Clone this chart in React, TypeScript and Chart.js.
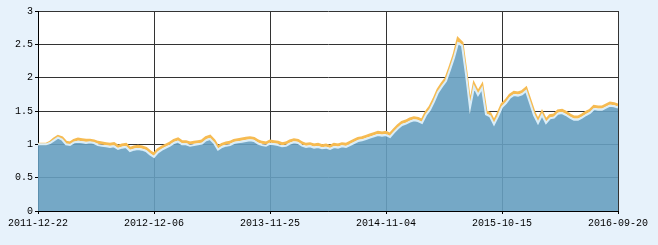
import React, { useEffect, useRef } from "react";
import { Chart, registerables } from "chart.js";

Chart.register(...registerables);

const xTickLabels = ["2011-12-22", "2012-12-06", "2013-11-25", "2014-11-04", "2015-10-15", "2016-09-20"];
const xTickStep = 29;

const navValues = [
  1.00, 1.00, 1.00, 1.02, 1.06, 1.10, 1.07, 1.00, 0.99, 1.03,
  1.04, 1.03, 1.02, 1.03, 1.02, 0.99, 0.98, 0.97, 0.96, 0.97,
  0.93, 0.95, 0.96, 0.90, 0.92, 0.93, 0.92, 0.90, 0.85, 0.81,
  0.88, 0.92, 0.95, 0.98, 1.02, 1.04, 1.00, 1.00, 0.98, 0.99,
  1.00, 1.01, 1.06, 1.08, 1.02, 0.92, 0.96, 0.98, 0.99, 1.02,
  1.03, 1.04, 1.05, 1.06, 1.05, 1.01, 0.99, 0.98, 1.01, 1.00,
  0.99, 0.97, 0.98, 1.01, 1.03, 1.02, 0.98, 0.96, 0.97, 0.95,
  0.96, 0.94, 0.95, 0.93, 0.96, 0.95, 0.97, 0.96, 0.99, 1.02,
  1.05, 1.06, 1.08, 1.10, 1.12, 1.14, 1.13, 1.14, 1.11, 1.18,
  1.24, 1.29, 1.31, 1.34, 1.36, 1.35, 1.32, 1.44, 1.52, 1.64,
  1.78, 1.87, 1.95, 2.12, 2.30, 2.52, 2.48, 2.05, 1.55, 1.86,
  1.74, 1.84, 1.45, 1.42, 1.30, 1.42, 1.56, 1.62, 1.70, 1.74,
  1.73, 1.75, 1.80, 1.62, 1.44, 1.32, 1.44, 1.32, 1.39, 1.40,
  1.46, 1.47, 1.44, 1.40, 1.37, 1.37, 1.40, 1.44, 1.47, 1.53,
  1.52, 1.52, 1.55, 1.58, 1.57, 1.55,
];

const accValues = [
  1.00, 1.00, 1.00, 1.03, 1.08, 1.12, 1.10, 1.03, 1.02, 1.06,
  1.08, 1.07, 1.06, 1.06, 1.05, 1.03, 1.02, 1.01, 1.00, 1.01,
  0.97, 0.99, 1.00, 0.94, 0.96, 0.97, 0.96, 0.94, 0.89, 0.85,
  0.92, 0.96, 0.99, 1.02, 1.06, 1.08, 1.04, 1.04, 1.02, 1.03,
  1.04, 1.05, 1.10, 1.12, 1.06, 0.96, 1.00, 1.02, 1.03, 1.06,
  1.07, 1.08, 1.09, 1.10, 1.09, 1.05, 1.03, 1.02, 1.05, 1.04,
  1.03, 1.01, 1.02, 1.05, 1.07, 1.06, 1.02, 1.00, 1.01, 0.99,
  1.00, 0.98, 0.99, 0.97, 1.00, 0.99, 1.01, 1.00, 1.03, 1.06,
  1.09, 1.10, 1.12, 1.14, 1.16, 1.18, 1.17, 1.18, 1.15, 1.22,
  1.28, 1.33, 1.35, 1.38, 1.40, 1.39, 1.36, 1.48, 1.56, 1.68,
  1.82, 1.91, 1.99, 2.16, 2.34, 2.58, 2.52, 2.08, 1.58, 1.90,
  1.78, 1.88, 1.49, 1.46, 1.34, 1.46, 1.60, 1.66, 1.74, 1.78,
  1.77, 1.79, 1.84, 1.66, 1.48, 1.36, 1.48, 1.36, 1.43, 1.44,
  1.50, 1.51, 1.48, 1.44, 1.41, 1.41, 1.44, 1.48, 1.51, 1.57,
  1.56, 1.56, 1.59, 1.62, 1.61, 1.59,
];

const bgPlugin = {
  id: "bgPlugin",
  beforeDraw(chart: any) {
    const { ctx, chartArea } = chart;
    ctx.save();
    ctx.fillStyle = "#e7f2fb";
    ctx.fillRect(0, 0, chart.width, chart.height);
    ctx.fillStyle = "#ffffff";
    ctx.fillRect(chartArea.left, chartArea.top, chartArea.right - chartArea.left, chartArea.bottom - chartArea.top);
    ctx.restore();
  },
};

export default function App() {
  const ref = useRef<HTMLCanvasElement>(null);

  useEffect(() => {
    if (!ref.current) return;
    const tickFont = { family: "'Liberation Mono', 'DejaVu Sans Mono', monospace", size: 10 };
    const chart = new Chart(ref.current, {
      type: "line",
      data: {
        datasets: [
          {
            label: "nav",
            data: navValues.map((v, i) => ({ x: i, y: v })),
            borderColor: "#d9edf9",
            borderWidth: 2,
            backgroundColor: "rgba(102,159,192,0.9)",
            fill: "origin",
            pointRadius: 0,
            tension: 0,
          },
          {
            label: "acc",
            data: accValues.map((v, i) => ({ x: i, y: v })),
            borderColor: "#f6bb52",
            borderWidth: 3,
            backgroundColor: "transparent",
            fill: false,
            pointRadius: 0,
            tension: 0,
          },
        ],
      },
      options: {
        animation: false,
        responsive: false,
        devicePixelRatio: 1,
        layout: { padding: { left: 0, top: 11, right: 40, bottom: 0 } },
        plugins: { legend: { display: false }, tooltip: { enabled: false } },
        scales: {
          x: {
            type: "linear",
            min: 0,
            max: navValues.length - 1,
            afterFit: (s: any) => {
              s.height = 34;
            },
            ticks: {
              stepSize: xTickStep,
              autoSkip: false,
              maxRotation: 0,
              padding: 3,
              color: "#000",
              font: tickFont,
              callback: (v: any) => {
                const k = Math.round(Number(v) / xTickStep);
                return Number(v) % xTickStep === 0 ? xTickLabels[k] ?? "" : "";
              },
            },
            grid: { color: "#333", lineWidth: 1, tickLength: 3, tickColor: "#000" },
            border: { color: "#000", width: 1 },
          },
          y: {
            min: 0,
            max: 3,
            afterFit: (s: any) => {
              s.width = 38;
            },
            ticks: {
              stepSize: 0.5,
              padding: 2,
              color: "#000",
              font: tickFont,
              callback: (v: any) => String(Math.round(Number(v) * 10) / 10),
            },
            grid: { color: "#333", lineWidth: 1, tickLength: 3, tickColor: "#000" },
            border: { color: "#000", width: 1 },
          },
        },
      },
      plugins: [bgPlugin],
    });
    return () => chart.destroy();
  }, []);

  return (
    <div style={{ position: "fixed", left: 0, top: 0, width: 658, height: 245, background: "#e7f2fb" }}>
      <canvas ref={ref} width={658} height={245} style={{ display: "block", width: 658, height: 245 }} />
    </div>
  );
}
